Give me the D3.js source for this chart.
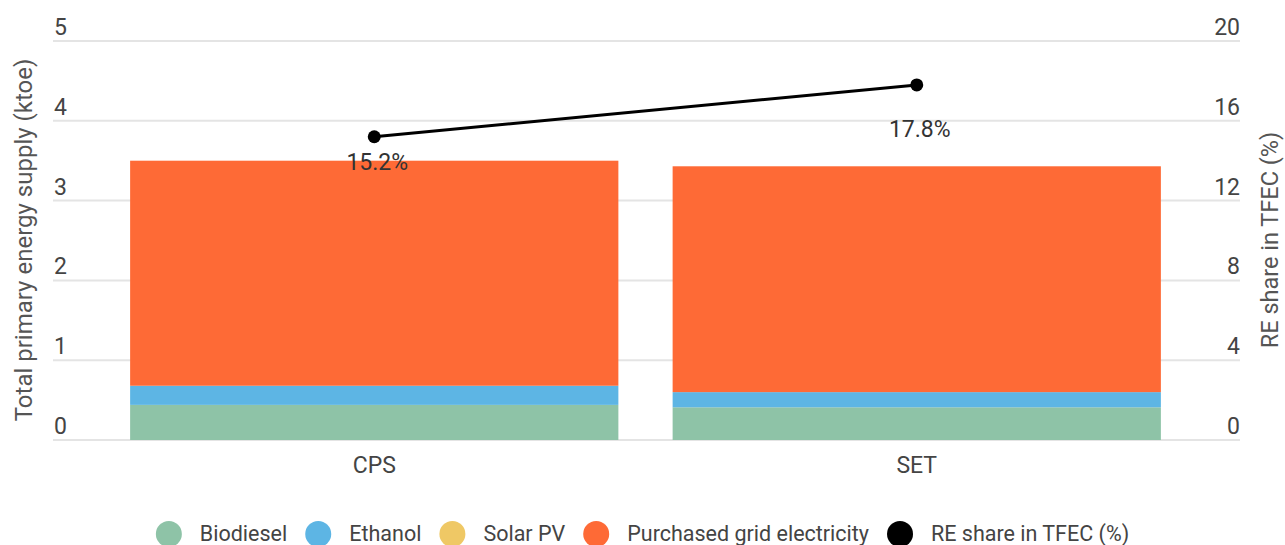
<!DOCTYPE html>
<html>
<head>
<meta charset="utf-8">
<style>
    body { margin: 0; background: #fff; }
    svg { display: block; font-family: Roboto, "Noto Sans", sans-serif; }
</style>
</head>
<body>
<script src="https://d3js.org/d3.v7.min.js"></script>
<script>

    // data
    var scenarios = ["CPS", "SET"];
    var biodiesel = [0.44, 0.41];
    var ethanol = [0.24, 0.19];
    var solarPV = [0.0, 0.0];
    var gridElec = [2.82, 2.83];
    var reShare = [15.2, 17.8];
    var reLabels = ["15.2%", "17.8%"];
    var labelDy = [33, 52];   // how far below each dot its label sits

    var leftTicks = [0, 1, 2, 3, 4, 5];
    var rightTicks = [0, 4, 8, 12, 16, 20];

    var seriesNames = ["Biodiesel", "Ethanol", "Solar PV", "Purchased grid electricity"];
    var seriesColors = ["#8ec3a7", "#5db5e4", "#efc865", "#fe6a36"];
    var lineName = "RE share in TFEC (%)";

    var W = 1285, H = 545;
    var gridLeft = 53, gridRight = 1240;

    var svg = d3.select("body").append("svg")
        .attr("width", W)
        .attr("height", H);

    var x = d3.scaleBand()
        .domain(scenarios)
        .range([103, 1188])
        .paddingInner(0.1)
        .paddingOuter(0.05);

    var y = d3.scaleLinear().domain([0, 5]).range([440, 41]);
    var y2 = d3.scaleLinear().domain([0, 20]).range([440, 41]);

    // gridlines + left tick labels
    var gl = svg.append("g");
    gl.selectAll("line").data(leftTicks).enter().append("line")
        .attr("x1", gridLeft).attr("x2", gridRight)
        .attr("y1", function(d) { return y(d); })
        .attr("y2", function(d) { return y(d); })
        .style("stroke", "#e4e4e4")
        .style("stroke-width", 2);

    gl.selectAll("text").data(leftTicks).enter().append("text")
        .attr("x", 54)
        .attr("y", function(d) { return y(d) - 6; })
        .style("font-size", "23px")
        .style("fill", "#444")
        .text(function(d) { return d; });

    svg.append("g").selectAll("text").data(rightTicks).enter().append("text")
        .attr("x", gridRight)
        .attr("y", function(d) { return y2(d) - 6; })
        .attr("text-anchor", "end")
        .style("font-size", "23px")
        .style("fill", "#444")
        .text(function(d) { return d; });

    // stacked bars
    var rows = scenarios.map(function(s, i) {
        return { cat: s, bio: biodiesel[i], eth: ethanol[i], pv: solarPV[i], grid: gridElec[i] };
    });
    var keys = ["bio", "eth", "pv", "grid"];
    var stacked = d3.stack().keys(keys)(rows);

    svg.append("g").selectAll("g").data(stacked).enter().append("g")
        .style("fill", function(d, i) { return seriesColors[i]; })
        .selectAll("rect").data(function(d) { return d; }).enter().append("rect")
        .attr("x", function(d) { return x(d.data.cat); })
        .attr("width", x.bandwidth())
        .attr("y", function(d) { return y(d[1]); })
        .attr("height", function(d) { return y(d[0]) - y(d[1]); });

    // category labels
    svg.append("g").selectAll("text").data(scenarios).enter().append("text")
        .attr("x", function(d) { return x(d) + x.bandwidth() / 2; })
        .attr("y", 473)
        .attr("text-anchor", "middle")
        .style("font-size", "23px")
        .style("fill", "#444")
        .text(function(d) { return d; });

    // RE share line
    var cx = function(i) { return x(scenarios[i]) + x.bandwidth() / 2; };
    var line = d3.line()
        .x(function(d, i) { return cx(i); })
        .y(function(d) { return y2(d); });

    svg.append("path")
        .datum(reShare)
        .attr("d", line)
        .style("fill", "none")
        .style("stroke", "#000")
        .style("stroke-width", 3);

    svg.append("g").selectAll("circle").data(reShare).enter().append("circle")
        .attr("cx", function(d, i) { return cx(i); })
        .attr("cy", function(d) { return y2(d); })
        .attr("r", 6.5)
        .style("fill", "#000");

    svg.append("g").selectAll("text").data(reShare).enter().append("text")
        .attr("x", function(d, i) { return cx(i) + 3; })
        .attr("y", function(d, i) { return y2(d) + labelDy[i]; })
        .attr("text-anchor", "middle")
        .style("font-size", "23px")
        .style("fill", "#333")
        .text(function(d, i) { return reLabels[i]; });

    // axis titles
    svg.append("text")
        .attr("transform", "translate(32,240) rotate(-90)")
        .attr("text-anchor", "middle")
        .style("font-size", "24px")
        .style("fill", "#555")
        .text("Total primary energy supply (ktoe)");

    svg.append("text")
        .attr("transform", "translate(1278,240) rotate(-90)")
        .attr("text-anchor", "middle")
        .style("font-size", "23.5px")
        .style("fill", "#555")
        .text(lineName);

    // legend
    var legendItems = seriesNames.map(function(n, i) { return { name: n, color: seriesColors[i] }; })
        .concat([{ name: lineName, color: "#000" }]);

    var lg = svg.append("g");
    var items = lg.selectAll("g").data(legendItems).enter().append("g");
    items.append("circle")
        .attr("r", 13)
        .attr("cy", 534)
        .style("fill", function(d) { return d.color; });
    items.append("text")
        .attr("x", 31)
        .attr("y", 541)
        .style("font-size", "21.5px")
        .style("fill", "#444")
        .text(function(d) { return d.name; });

    var pos = 0;
    items.each(function() {
        var g = d3.select(this);
        g.attr("transform", "translate(" + pos + ",0)");
        pos += 31 + g.select("text").node().getComputedTextLength() + 31;
    });
    var total = pos - 31 + 13;
    lg.attr("transform", "translate(" + (W / 2 - total / 2 + 13) + ",0)");

</script>
</body>
</html>
